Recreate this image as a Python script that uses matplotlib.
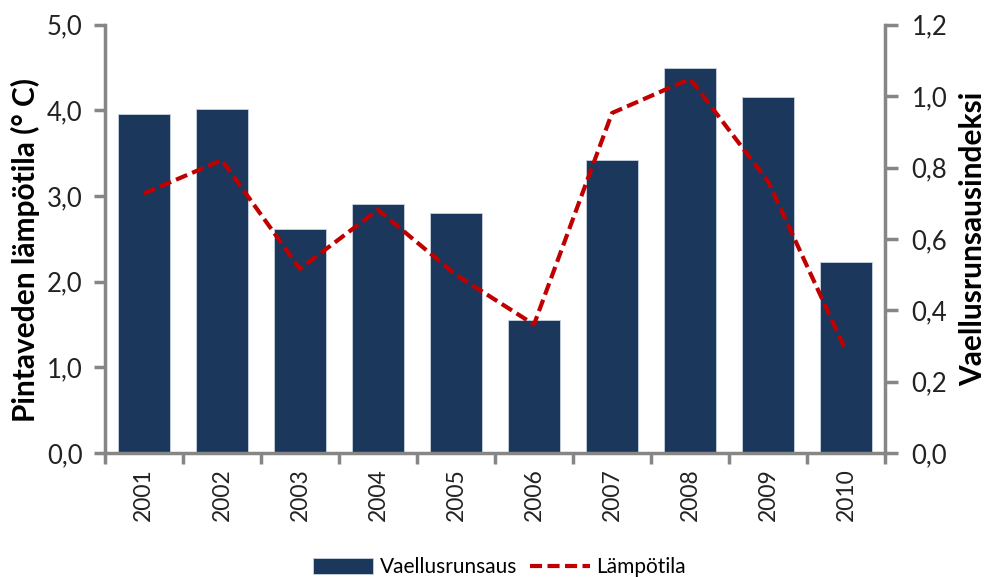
import matplotlib
matplotlib.use("Agg")
import matplotlib.pyplot as plt
from matplotlib.ticker import FuncFormatter, FixedLocator
import numpy as np

plt.rcParams['font.family'] = ['Lato', 'DejaVu Sans']

years = ['2001', '2002', '2003', '2004', '2005', '2006', '2007', '2008', '2009', '2010']
# Vaellusrunsausindeksi (right axis, bars)
runsaus = [0.95, 0.963, 0.627, 0.697, 0.672, 0.373, 0.822, 1.078, 0.998, 0.535]
# Pintaveden lampotila (left axis, line)
lampotila = [3.03, 3.42, 2.15, 2.84, 2.08, 1.50, 3.97, 4.37, 3.17, 1.19]

bar_color = '#1b375c'
line_color = '#c00000'
axis_gray = '#868686'
text_color = '#222222'

fig = plt.figure(figsize=(9.89, 5.77), dpi=100)
ax = fig.add_axes([0.106, 0.215, 0.789, 0.742])
ax2 = ax.twinx()

x = np.arange(len(years))
ax2.bar(x, runsaus, width=0.66, color=bar_color, edgecolor='#c8d3e0', linewidth=0.6,
        label='Vaellusrunsaus')
ax.plot(x, lampotila, color=line_color, lw=3, ls=(0, (2.9, 1.3)), label='Lämpötila')

# line above the bars
ax.set_zorder(ax2.get_zorder() + 1)
ax.patch.set_visible(False)

ax.set_xlim(-0.5, len(years) - 0.5)
ax.set_ylim(0, 5)
ax2.set_ylim(0, 1.2)
ax.set_yticks(np.arange(0, 5.01, 1.0))
ax2.set_yticks(np.arange(0, 1.21, 0.2))

comma1 = FuncFormatter(lambda v, p: f'{v:.1f}'.replace('.', ','))
ax.yaxis.set_major_formatter(comma1)
ax2.yaxis.set_major_formatter(comma1)

# category ticks at boundaries, labels at centres
ax.xaxis.set_major_locator(FixedLocator(np.arange(-0.5, len(years), 1.0)))
ax.xaxis.set_minor_locator(FixedLocator(x))
ax.set_xticklabels([''] * (len(years) + 1))
ax.set_xticklabels(years, minor=True, rotation=90, fontsize=16.5, color=text_color)
ax.tick_params(axis='x', which='major', length=8, width=2.5, color=axis_gray, direction='out')
ax.tick_params(axis='x', which='minor', length=0, pad=11)

ax.tick_params(axis='y', length=8, width=2.5, color=axis_gray, labelsize=18.5,
               labelcolor=text_color, pad=8)
ax2.tick_params(axis='y', length=9, width=2.5, color=axis_gray, labelsize=18.5,
                labelcolor=text_color, pad=10)

for a in (ax, ax2):
    a.spines['top'].set_visible(False)
    for s in ('left', 'right', 'bottom'):
        a.spines[s].set_color(axis_gray)
        a.spines[s].set_linewidth(2.5)
ax2.spines['left'].set_visible(False)
ax2.spines['bottom'].set_visible(False)
ax.spines['right'].set_visible(False)

fig.text(0.026, 0.567, 'Pintaveden lämpötila (° C)', rotation=90, ha='center', va='center',
         fontsize=21.5, fontweight='bold', color='black')
fig.text(0.984, 0.586, 'Vaellusrunsausindeksi', rotation=90, ha='center', va='center',
         fontsize=21.5, fontweight='bold', color='black')

h1, l1 = ax2.get_legend_handles_labels()
h2, l2 = ax.get_legend_handles_labels()
fig.legend(h1 + h2, l1 + l2, loc='center', bbox_to_anchor=(0.505, 0.017), ncol=2,
           frameon=False, fontsize=15, handlelength=2.9, handleheight=0.8,
           columnspacing=0.6, handletextpad=0.3, borderpad=0)

fig.savefig('out.png', dpi=100)
